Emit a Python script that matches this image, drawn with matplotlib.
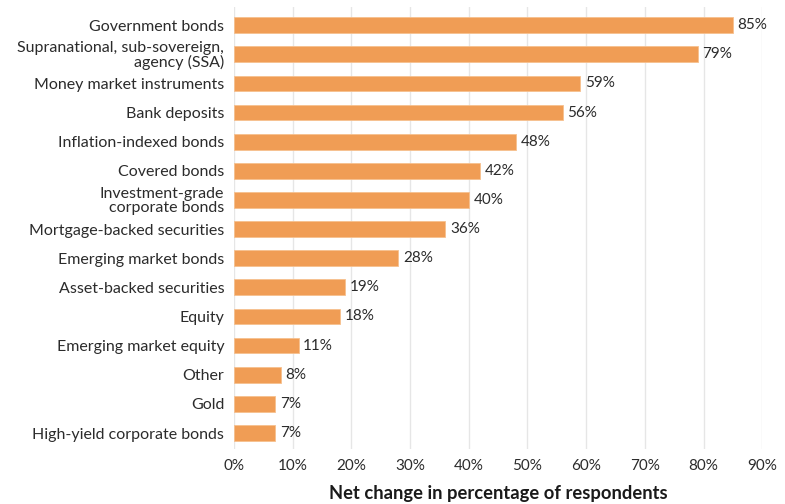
import matplotlib.pyplot as plt
from matplotlib.ticker import FuncFormatter

categories = [
    'Government bonds',
    'Supranational, sub-sovereign,\nagency (SSA)',
    'Money market instruments',
    'Bank deposits',
    'Inflation-indexed bonds',
    'Covered bonds',
    'Investment-grade\ncorporate bonds',
    'Mortgage-backed securities',
    'Emerging market bonds',
    'Asset-backed securities',
    'Equity',
    'Emerging market equity',
    'Other',
    'Gold',
    'High-yield corporate bonds',
]
values = [85, 79, 59, 56, 48, 42, 40, 36, 28, 19, 18, 11, 8, 7, 7]
xticks = [0, 10, 20, 30, 40, 50, 60, 70, 80, 90]

plt.rcParams['font.family'] = ['Lato', 'DejaVu Sans']
text_col = '#2b2b2b'

fig = plt.figure(figsize=(7.85, 5.04), dpi=100)
ax = fig.add_axes([0.298, 0.109, 0.673, 0.877])

pos = list(range(len(categories)))
ax.barh(pos, values, height=0.54, color='#F09D55', edgecolor='#F6C08E', linewidth=0.6, zorder=3)
for p, v in zip(pos, values):
    ax.text(v + 0.8, p, f'{v}%', va='center', ha='left', fontsize=11, color=text_col)

ax.set_yticks(pos)
ax.set_yticklabels(categories, fontsize=11.5, color=text_col, linespacing=1.0)
ax.set_ylim(14.55, -0.62)
ax.set_xlim(0, 90)
ax.set_xticks(xticks)
ax.xaxis.set_major_formatter(FuncFormatter(lambda x, _: f'{x:.0f}%'))
ax.tick_params(axis='x', labelsize=11, colors=text_col, length=0, pad=7)
ax.tick_params(axis='y', length=0, pad=7)
ax.grid(axis='x', color='#e6e6e6', linewidth=1, zorder=0)
for s in ax.spines.values():
    s.set_visible(False)
ax.set_xlabel('Net change in percentage of respondents', fontsize=13.2, fontweight='bold',
              color='#1a1a1a', labelpad=9)

fig.savefig('out.png', dpi=100)
